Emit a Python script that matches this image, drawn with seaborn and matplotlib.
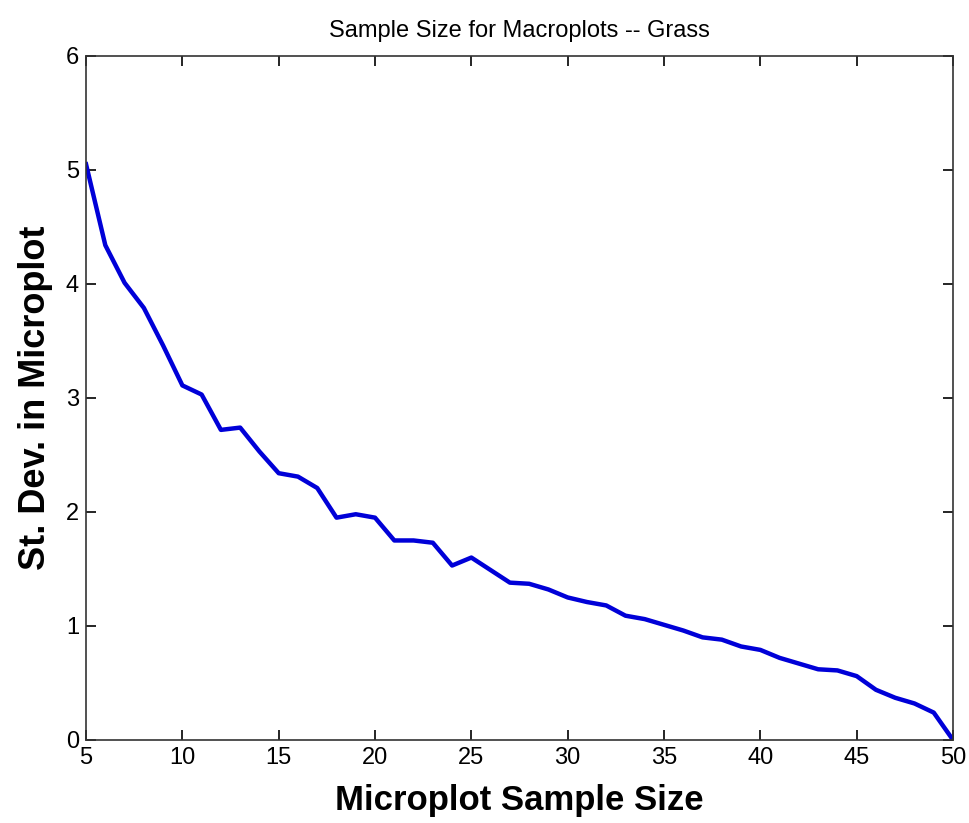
import matplotlib
matplotlib.use("Agg")
import matplotlib.pyplot as plt
import seaborn as sns
import pandas as pd

sample_size = list(range(5, 51))
st_dev = [5.05, 4.34, 4.01, 3.79, 3.46, 3.11, 3.03, 2.72, 2.74, 2.53,
          2.34, 2.31, 2.21, 1.95, 1.98, 1.95, 1.75, 1.75, 1.73, 1.53,
          1.60, 1.49, 1.38, 1.37, 1.32, 1.25, 1.21, 1.18, 1.09, 1.06,
          1.01, 0.96, 0.90, 0.88, 0.82, 0.79, 0.72, 0.67, 0.62, 0.61,
          0.56, 0.44, 0.37, 0.32, 0.24, 0.00]
x_ticks = [5, 10, 15, 20, 25, 30, 35, 40, 45, 50]
y_ticks = [0, 1, 2, 3, 4, 5, 6]

df = pd.DataFrame({"Microplot Sample Size": sample_size, "St. Dev. in Microplot": st_dev})

plt.rcParams['font.family'] = ['Liberation Sans', 'DejaVu Sans']

fig = plt.figure(figsize=(9.69, 8.23), dpi=100)
ax = fig.add_axes([0.0888, 0.1009, 0.8947, 0.8311])
sns.lineplot(data=df, x="Microplot Sample Size", y="St. Dev. in Microplot",
             ax=ax, color="#0000d8", linewidth=3.2)
ax.set_xlim(5, 50)
ax.set_ylim(0, 6)
ax.set_xticks(x_ticks)
ax.set_yticks(y_ticks)
ax.tick_params(direction="in", top=True, right=True, labelsize=17, length=7, width=1.2, pad=5)
for s in ax.spines.values():
    s.set_linewidth(1.2)
    s.set_color("#333333")
ax.set_xlabel("Microplot Sample Size", fontsize=25, fontweight="bold", labelpad=11)
ax.set_ylabel("St. Dev. in Microplot", fontsize=26, fontweight="bold", labelpad=9)
ax.set_title("Sample Size for Macroplots -- Grass", fontsize=17, pad=14)
fig.savefig("out.png", dpi=100)
